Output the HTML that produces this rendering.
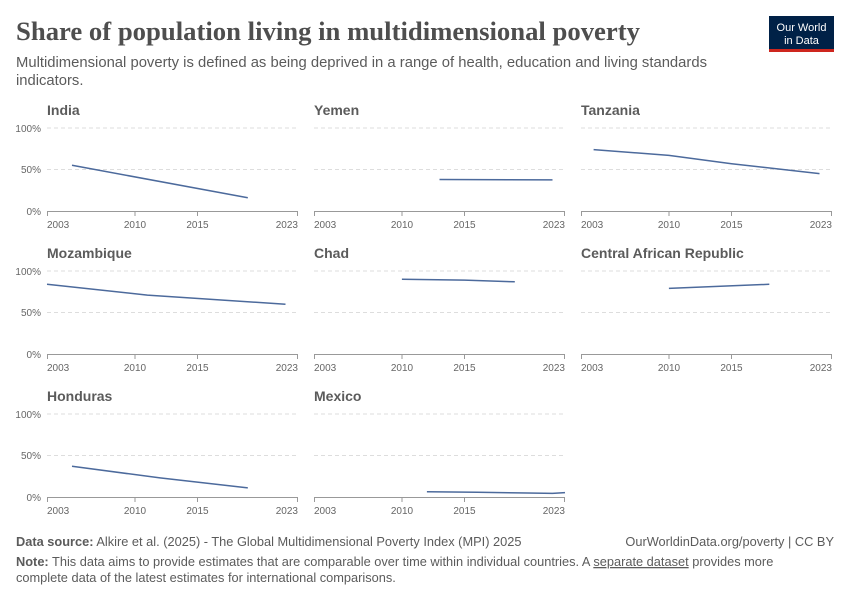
<!DOCTYPE html>
<html><head><meta charset="utf-8"><style>
body{margin:0;background:#fff;}
svg{display:block;font-family:"Liberation Sans",sans-serif;}
</style></head><body>
<svg width="850" height="600" viewBox="0 0 850 600" xmlns="http://www.w3.org/2000/svg">
<text x="16" y="40" font-family="Liberation Serif,serif" font-size="26" font-weight="bold" fill="#4e4e4e" textLength="624" lengthAdjust="spacingAndGlyphs">Share of population living in multidimensional poverty</text>
<text x="16" y="67" font-size="14.8" fill="#5b5b5b" textLength="691" lengthAdjust="spacingAndGlyphs">Multidimensional poverty is defined as being deprived in a range of health, education and living standards</text>
<text x="16" y="85" font-size="14.8" fill="#5b5b5b">indicators.</text>
<rect x="769" y="16" width="65" height="36" fill="#002147"/>
<rect x="769" y="49" width="65" height="3" fill="#ce261e"/>
<text x="801.5" y="31" font-size="11" fill="#fff" text-anchor="middle">Our World</text>
<text x="801.5" y="44" font-size="11" fill="#fff" text-anchor="middle">in Data</text>

<defs>
<g id="grid1">
<line x1="0" x2="251" y1="-83" y2="-83" stroke="#ddd" stroke-dasharray="4,3"/>
<line x1="0" x2="251" y1="-41.5" y2="-41.5" stroke="#ddd" stroke-dasharray="4,3"/>
<line x1="0" x2="251" y1="0.5" y2="0.5" stroke="#999"/>
<line x1="0.5" x2="0.5" y1="0" y2="5" stroke="#999"/>
<line x1="88" x2="88" y1="0" y2="5" stroke="#999"/>
<line x1="150.5" x2="150.5" y1="0" y2="5" stroke="#999"/>
<line x1="250.5" x2="250.5" y1="0" y2="5" stroke="#999"/>
<text x="0" y="17" font-size="10" fill="#666">2003</text>
<text x="88" y="17" font-size="10" fill="#666" text-anchor="middle">2010</text>
<text x="150.5" y="17" font-size="10" fill="#666" text-anchor="middle">2015</text>
<text x="251" y="17" font-size="10" fill="#666" text-anchor="end">2023</text>
</g>
<g id="ylab">
<text x="-6" y="-79" font-size="10" fill="#666" text-anchor="end">100%</text>
<text x="-6" y="-38" font-size="10" fill="#666" text-anchor="end">50%</text>
<text x="-6" y="4" font-size="10" fill="#666" text-anchor="end">0%</text>
</g>
</defs>

<g font-size="14" font-weight="bold" fill="#5b5b5b">
<text x="47" y="115">India</text>
<text x="314" y="115">Yemen</text>
<text x="581" y="115">Tanzania</text>
<text x="47" y="258">Mozambique</text>
<text x="314" y="258">Chad</text>
<text x="581" y="258">Central African Republic</text>
<text x="47" y="401">Honduras</text>
<text x="314" y="401">Mexico</text>
</g>

<use href="#grid1" transform="translate(47,211)"/><use href="#ylab" transform="translate(47,211)"/>
<use href="#grid1" transform="translate(314,211)"/>
<use href="#grid1" transform="translate(581,211)"/>
<use href="#grid1" transform="translate(47,354)"/><use href="#ylab" transform="translate(47,354)"/>
<use href="#grid1" transform="translate(314,354)"/>
<use href="#grid1" transform="translate(581,354)"/>
<use href="#grid1" transform="translate(47,497)"/><use href="#ylab" transform="translate(47,497)"/>
<use href="#grid1" transform="translate(314,497)"/>

<g fill="none" stroke="#4c6a9c" stroke-width="1.5">
<polyline points="72,165.3 247.8,197.7"/>
<polyline points="439.5,179.5 552.5,179.9"/>
<polyline points="593.6,149.6 668.9,155.4 731.6,163.7 819.5,173.6"/>
<polyline points="47,284.3 147.4,295.1 285.5,304.2"/>
<polyline points="401.9,279.3 464.6,280.1 514.8,281.8"/>
<polyline points="668.9,288.4 769.3,284.3"/>
<polyline points="72,466.3 160,477.9 247.8,487.9"/>
<polyline points="426.9,491.8 477,492.3 527.2,493 552.5,493.4 565,492.6"/>
</g>

<g font-size="12.8" fill="#5b5b5b">
<text x="16" y="546"><tspan font-weight="bold">Data source:</tspan> Alkire et al. (2025) - The Global Multidimensional Poverty Index (MPI) 2025</text>
<text x="834" y="546" text-anchor="end">OurWorldinData.org/poverty | CC BY</text>
<text x="16" y="566"><tspan font-weight="bold">Note:</tspan> This data aims to provide estimates that are comparable over time within individual countries. A <tspan text-decoration="underline">separate dataset</tspan> provides more</text>
<text x="16" y="582">complete data of the latest estimates for international comparisons.</text>
</g>
</svg>
</body></html>
